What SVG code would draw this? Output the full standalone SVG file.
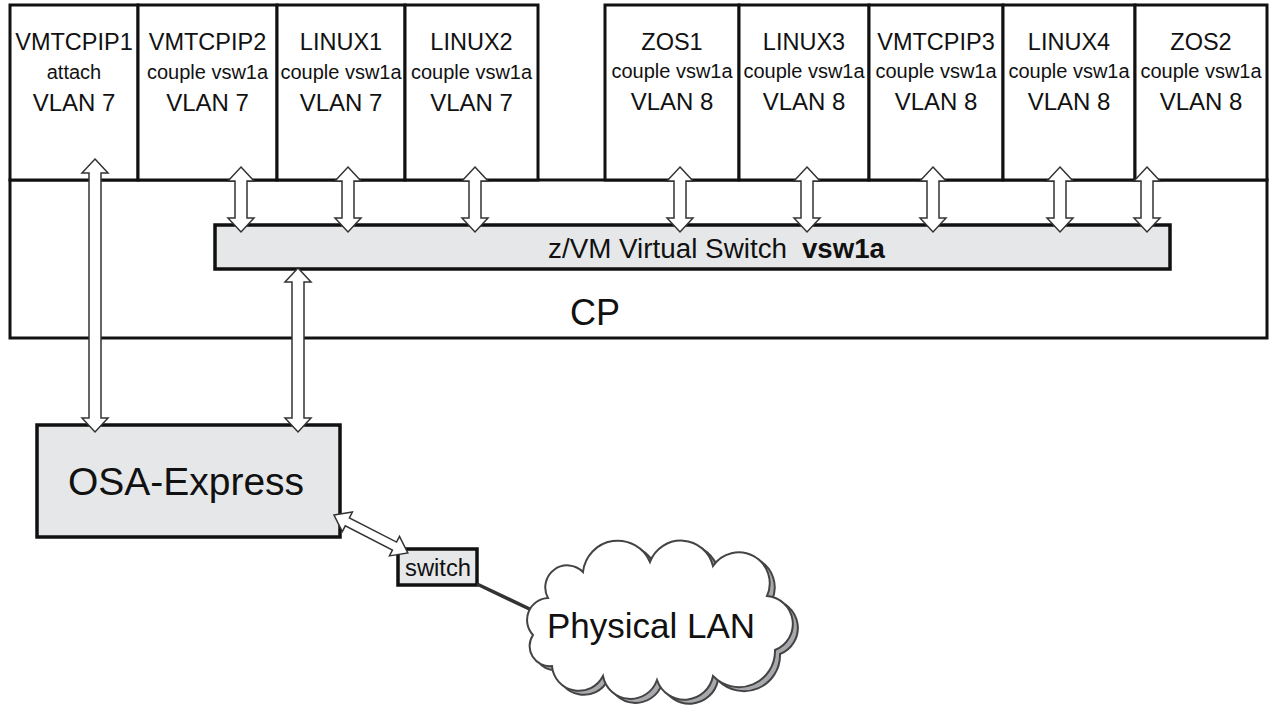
<svg xmlns="http://www.w3.org/2000/svg" width="1273" height="708" viewBox="0 0 1273 708">
<style>
text{font-family:"Liberation Sans",Arial,Helvetica,sans-serif;fill:#111;text-anchor:middle}
.box{fill:#fff;stroke:#111;stroke-width:3}
.gbox{fill:#e6e7e8;stroke:#111;stroke-width:3.5}
.n{font-size:23.5px}
.c{font-size:20px}
.v{font-size:24px}
.arr{fill:#fff;stroke:#333;stroke-width:1.5;stroke-linejoin:miter}
</style>
<rect width="1273" height="708" fill="#fff"/>
<g id="cp">
<rect class="box" x="10" y="180" width="1257" height="158"/>
<text x="595" y="325" style="font-size:36px">CP</text>
</g>
<g id="vmtcpip1"><rect class="box" x="10" y="5" width="128" height="175"/>
<text class="n" x="74" y="50">VMTCPIP1</text><text class="c" x="74" y="79">attach</text><text class="v" x="74" y="111">VLAN 7</text></g>
<g id="vmtcpip2"><rect class="box" x="138" y="5" width="139" height="175"/>
<text class="n" x="207.5" y="50">VMTCPIP2</text><text class="c" x="207.5" y="79">couple vsw1a</text><text class="v" x="207.5" y="111">VLAN 7</text></g>
<g id="linux1"><rect class="box" x="277" y="5" width="128" height="175"/>
<text class="n" x="341" y="50">LINUX1</text><text class="c" x="341" y="79">couple vsw1a</text><text class="v" x="341" y="111">VLAN 7</text></g>
<g id="linux2"><rect class="box" x="405" y="5" width="133" height="175"/>
<text class="n" x="471.5" y="50">LINUX2</text><text class="c" x="471.5" y="79">couple vsw1a</text><text class="v" x="471.5" y="111">VLAN 7</text></g>
<g id="zos1"><rect class="box" x="605" y="5" width="134" height="175"/>
<text class="n" x="672" y="50">ZOS1</text><text class="c" x="672" y="78">couple vsw1a</text><text class="v" x="672" y="110">VLAN 8</text></g>
<g id="linux3"><rect class="box" x="739" y="5" width="130" height="175"/>
<text class="n" x="804" y="50">LINUX3</text><text class="c" x="804" y="78">couple vsw1a</text><text class="v" x="804" y="110">VLAN 8</text></g>
<g id="vmtcpip3"><rect class="box" x="869" y="5" width="134" height="175"/>
<text class="n" x="936" y="50">VMTCPIP3</text><text class="c" x="936" y="78">couple vsw1a</text><text class="v" x="936" y="110">VLAN 8</text></g>
<g id="linux4"><rect class="box" x="1003" y="5" width="132" height="175"/>
<text class="n" x="1069" y="50">LINUX4</text><text class="c" x="1069" y="78">couple vsw1a</text><text class="v" x="1069" y="110">VLAN 8</text></g>
<g id="zos2"><rect class="box" x="1135" y="5" width="132" height="175"/>
<text class="n" x="1201" y="50">ZOS2</text><text class="c" x="1201" y="78">couple vsw1a</text><text class="v" x="1201" y="110">VLAN 8</text></g>
<g id="vswitch"><rect class="gbox" x="215" y="225" width="955" height="44"/>
<text x="548" y="258" style="font-size:27px;text-anchor:start" textLength="239" lengthAdjust="spacingAndGlyphs">z/VM Virtual Switch</text>
<text x="802" y="258" style="font-size:27px;text-anchor:start;font-weight:bold" textLength="83" lengthAdjust="spacingAndGlyphs">vsw1a</text></g>
<g id="osa"><rect class="gbox" x="37" y="425" width="303" height="112"/>
<text x="186" y="495" style="font-size:39px">OSA-Express</text></g>
<g id="switch"><rect class="gbox" x="398" y="549" width="79" height="36" style="stroke-width:3.5"/>
<text x="438" y="576" style="font-size:23px" textLength="66" lengthAdjust="spacingAndGlyphs">switch</text></g>
<g id="connectors">
<line x1="477" y1="584" x2="540" y2="614" stroke="#333" stroke-width="3.5"/>
<polygon class="arr" points="95,159 108,173 101,173 101,418 108,418 95,432 82,418 89,418 89,173 82,173"/>
<polygon class="arr" points="298,268 311,282 304,282 304,418 311,418 298,432 285,418 292,418 292,282 285,282"/>
<polygon class="arr" points="241,167 254,181 247,181 247,218 254,218 241,232 228,218 235,218 235,181 228,181"/>
<polygon class="arr" points="348,167 361,181 354,181 354,218 361,218 348,232 335,218 342,218 342,181 335,181"/>
<polygon class="arr" points="475,167 488,181 481,181 481,218 488,218 475,232 462,218 469,218 469,181 462,181"/>
<polygon class="arr" points="680,167 693,181 686,181 686,218 693,218 680,232 667,218 674,218 674,181 667,181"/>
<polygon class="arr" points="807,167 820,181 813,181 813,218 820,218 807,232 794,218 801,218 801,181 794,181"/>
<polygon class="arr" points="933,167 946,181 939,181 939,218 946,218 933,232 920,218 927,218 927,181 920,181"/>
<polygon class="arr" points="1060,167 1073,181 1066,181 1066,218 1073,218 1060,232 1047,218 1054,218 1054,181 1047,181"/>
<polygon class="arr" points="1147,167 1160,181 1153,181 1153,218 1160,218 1147,232 1134,218 1141,218 1141,181 1134,181"/>
<polygon class="arr" transform="translate(334,515) rotate(27.2)" points="0,0 15,-11 15,-4.5 68,-4.5 68,-11 83,0 68,11 68,4.5 15,4.5 15,11"/>
</g>
<g id="physical-lan">
<path transform="translate(5,4)" fill="#a7a9ac" stroke="#444" stroke-width="2" d="M548,598 A22,22 0 0 1 583,572 A35,35 0 0 1 650,562 A33,33 0 0 1 713,566 A31,31 0 0 1 767,596 A28,28 0 0 1 775,650 A36,36 0 0 1 713,676 A29,29 0 0 1 657,680 A28,28 0 0 1 603,676 A27,27 0 0 1 552,666 A20,20 0 0 1 533,635 A22,22 0 0 1 548,598 Z"/>
<path fill="#fff" stroke="#444" stroke-width="2" d="M548,598 A22,22 0 0 1 583,572 A35,35 0 0 1 650,562 A33,33 0 0 1 713,566 A31,31 0 0 1 767,596 A28,28 0 0 1 775,650 A36,36 0 0 1 713,676 A29,29 0 0 1 657,680 A28,28 0 0 1 603,676 A27,27 0 0 1 552,666 A20,20 0 0 1 533,635 A22,22 0 0 1 548,598 Z"/>
<text x="651" y="638" style="font-size:35px">Physical LAN</text>
</g>
</svg>
